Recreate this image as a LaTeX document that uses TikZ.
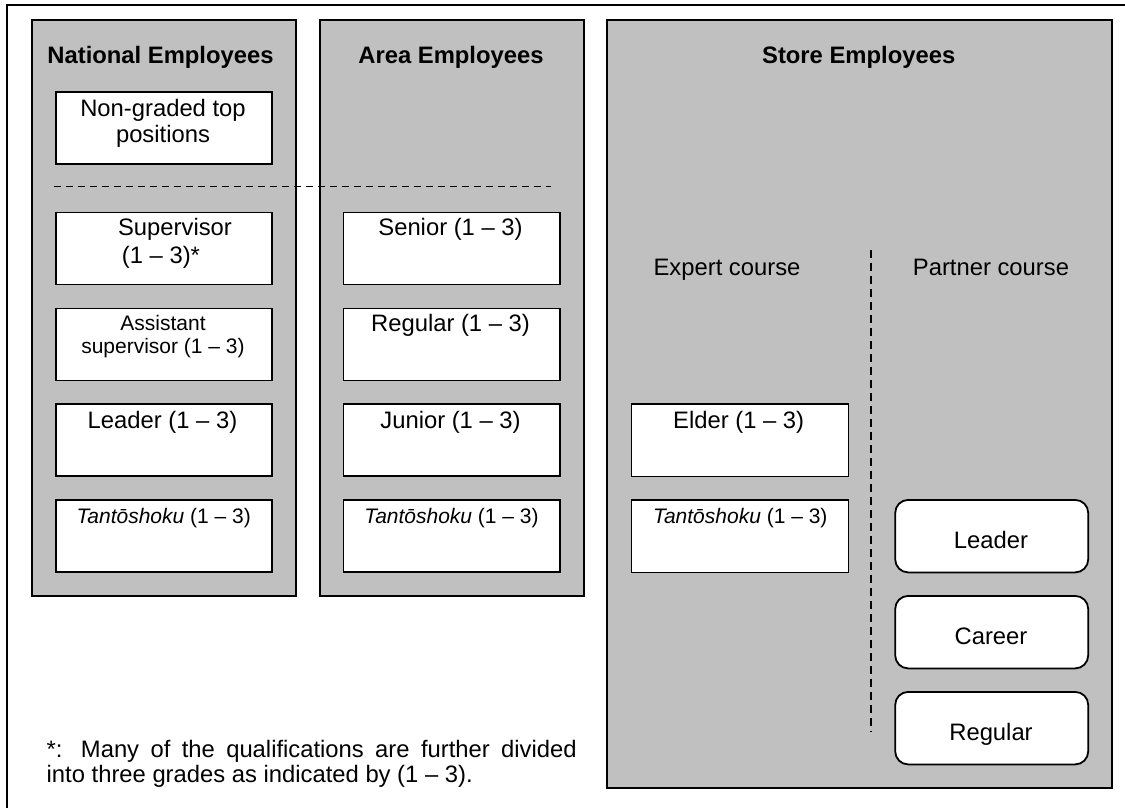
\documentclass[tikz,border=0pt]{standalone}
\usepackage{fontspec}
\setmainfont{Liberation Sans}
\definecolor{panelgray}{RGB}{192,192,192}
\tikzset{
  panel/.style={draw, line width=2pt, fill=panelgray, rectangle, inner sep=0pt, anchor=north west},
  rank/.style={draw, line width=1.8pt, fill=white, rectangle, inner sep=0pt, anchor=north west},
  rrank/.style={rank, rounded corners=13pt},
  txt/.style={anchor=base, inner sep=0pt, font=\fontsize{23.8}{27}\selectfont},
  stxt/.style={anchor=base, inner sep=0pt, font=\fontsize{21}{24}\selectfont},
  ttl/.style={anchor=base, inner sep=0pt, font=\fontsize{23.8}{27}\selectfont\bfseries},
  fn/.style={anchor=base west, inner sep=0pt, font=\fontsize{23.8}{27}\selectfont},
  sepline/.style={line width=1.3pt, dash pattern=on 7pt off 5pt},
  vsepline/.style={line width=1.3pt, dash pattern=on 8pt off 5pt},
  frame/.style={line width=2pt}
}
\begin{document}
\begin{tikzpicture}[x=1pt, y=-1pt]
\useasboundingbox (0,0) rectangle (1125,807);
% outer frame
\coordinate (fbl) at (6.5,808);
\coordinate (ftl) at (6.5,5);
\coordinate (ftr) at (1126,5);
\draw[frame] (fbl) -- (ftl) -- (ftr);

% panels
\node[panel, minimum width=264.5pt, minimum height=576pt] (natp) at (30.5,19) {};
\node[panel, minimum width=264.5pt, minimum height=576pt] (areap) at (318.5,19) {};
\node[panel, minimum width=505pt, minimum height=768pt] (storep) at (606,19) {};

% titles
\node[ttl] (natt) at (160.5,63.5) {National Employees};
\node[ttl] (areat) at (451,63.5) {Area Employees};
\node[ttl] (storet) at (858.7,63.5) {Store Employees};

% national column
\node[rank, minimum width=216pt, minimum height=72pt] (nongr) at (55,91) {};
\node[txt] (nongr1) at (163,116) {Non-graded top};
\node[txt] (nongr2) at (163,142) {positions};

\node[rank, minimum width=216pt, minimum height=72pt] (sup) at (55,211.5) {};
\node[txt] (sup1) at (175,235.5) {Supervisor};
\node[txt] (sup2) at (161,263) {(1 – 3)*};

\node[rank, minimum width=216pt, minimum height=72pt] (asst) at (55,307.5) {};
\node[stxt] (asst1) at (163,330) {Assistant};
\node[stxt] (asst2) at (163,353.5) {supervisor (1 – 3)};

\node[rank, minimum width=216pt, minimum height=72pt] (nlead) at (55,403) {};
\node[txt] (nlead1) at (162.5,428.3) {Leader (1 – 3)};

\node[rank, minimum width=216pt, minimum height=72pt] (ntan) at (55,499) {};
\node[stxt] (ntan1) at (163.7,523.3) {\textit{Tantōshoku} (1 – 3)};

% area column
\node[rank, minimum width=216.5pt, minimum height=72pt] (sen) at (342.5,211.5) {};
\node[txt] (sen1) at (450.5,235.5) {Senior (1 – 3)};

\node[rank, minimum width=216.5pt, minimum height=72pt] (areg) at (342.5,307.5) {};
\node[txt] (areg1) at (450.5,331.5) {Regular (1 – 3)};

\node[rank, minimum width=216.5pt, minimum height=72pt] (jun) at (342.5,403) {};
\node[txt] (jun1) at (450.5,428.3) {Junior (1 – 3)};

\node[rank, minimum width=216.5pt, minimum height=72pt] (atan) at (342.5,499) {};
\node[stxt] (atan1) at (451.5,523.3) {\textit{Tantōshoku} (1 – 3)};

% dashed separator between top positions and graded ranks
\coordinate (hsepL) at (53.6,186.5);
\coordinate (hsepR) at (551,186.5);
\draw[sepline] (hsepL) -- (hsepR);

% store column
\node[txt] (expert) at (727,275) {Expert course};
\node[txt] (partner) at (991,275) {Partner course};

\coordinate (vsepT) at (871,250);
\coordinate (vsepB) at (871,732);
\draw[vsepline] (vsepT) -- (vsepB);

\node[rank, minimum width=217pt, minimum height=72.5pt] (elder) at (630.5,403) {};
\node[txt] (elder1) at (738.7,428.3) {Elder (1 – 3)};

\node[rank, minimum width=217pt, minimum height=72.5pt] (stan) at (630.5,499) {};
\node[stxt] (stan1) at (740.3,523.3) {\textit{Tantōshoku} (1 – 3)};

\node[rrank, minimum width=193pt, minimum height=72.5pt] (plead) at (894.3,499) {};
\node[txt] (plead1) at (991,548.3) {Leader};

\node[rrank, minimum width=193pt, minimum height=72.5pt] (pcar) at (894.3,595) {};
\node[txt] (pcar1) at (991,644) {Career};

\node[rrank, minimum width=193pt, minimum height=72.5pt] (preg) at (894.3,691) {};
\node[txt] (preg1) at (991,740) {Regular};

% footnote
\node[fn] (fn1) at (46.5,757) {\makebox[530pt][s]{*: Many of the qualifications are further divided}};
\node[fn] (fn2) at (46.5,782) {into three grades as indicated by (1 – 3).};
\end{tikzpicture}
\end{document}
